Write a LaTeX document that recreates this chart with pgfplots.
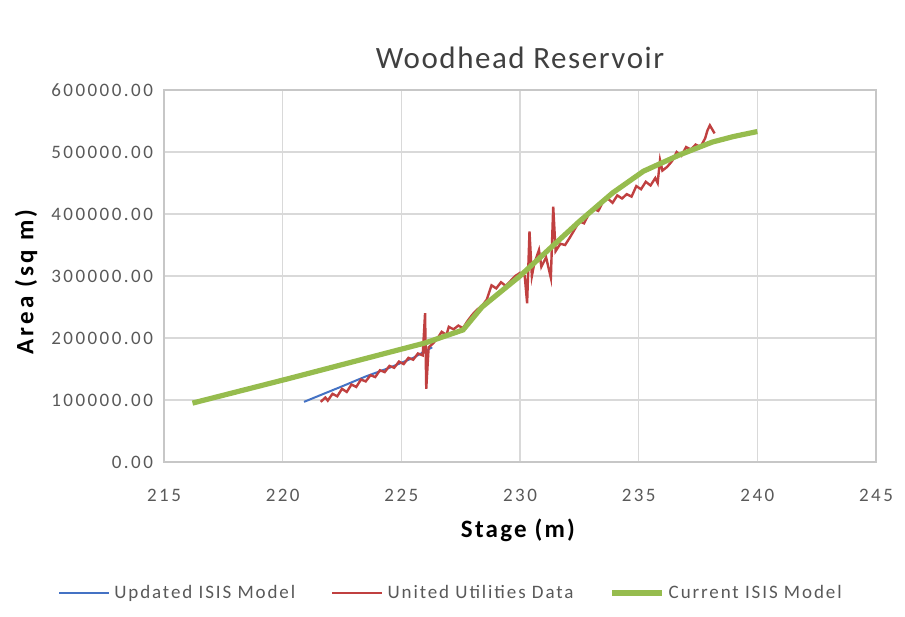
\documentclass[border=0pt]{standalone}
\usepackage{pgfplots}
\pgfplotsset{compat=1.18}
\usepackage{fontspec}
\setmainfont{Carlito}
\newfontfamily\tickfont[LetterSpace=13]{Carlito}
\newfontfamily\legfont[LetterSpace=10]{Carlito}
\newfontfamily\titlefont[LetterSpace=5]{Carlito}
\newfontfamily\xlabfont[LetterSpace=9]{Carlito}
\newfontfamily\ylabfont[LetterSpace=13]{Carlito}
\definecolor{ublue}{RGB}{68,114,196}
\definecolor{ured}{RGB}{192,64,64}
\definecolor{ugreen}{RGB}{150,188,78}
\definecolor{tickgray}{RGB}{89,89,89}
\definecolor{gridgray}{RGB}{217,217,217}
\begin{document}
\begin{tikzpicture}
\begin{axis}[
  scale only axis,
  width=356pt, height=186pt,
  xmin=215, xmax=245, ymin=0, ymax=600000,
  xtick={215,220,...,245},
  ytick={0,100000,...,600000},
  scaled ticks=false,
  grid=major,
  major grid style={gridgray, line width=0.6pt},
  axis line style={gridgray!80!gray, line width=0.6pt},
  major tick length=0pt,
  tick label style={font=\tickfont\fontsize{9.5}{11}\selectfont, text=tickgray},
  /pgf/number format/assume math mode=true,
  yticklabel style={/pgf/number format/fixed, /pgf/number format/fixed zerofill, /pgf/number format/precision=2, /pgf/number format/1000 sep={}, xshift=-2pt},
  xticklabel style={/pgf/number format/fixed, /pgf/number format/precision=0, /pgf/number format/1000 sep={}, yshift=-10pt},
  legend style={at={(0.4045,-0.352)}, anchor=center, draw=none, fill=none,
    font=\legfont\fontsize{9.5}{11}\selectfont, text=tickgray,
    /tikz/every even column/.append style={column sep=16pt}},
  legend columns=3,
  legend cell align=left,
  legend image code/.code={\draw[#1] (0pt,0pt) -- (25pt,0pt);},
]
\addplot[ublue, line width=1pt] coordinates {
(220.9,97000) (221.6,108000) (222.5,122000) (223.5,138000) (224.5,152000) (225.5,168000) (226.3,185000)
};
\addlegendentry{Updated ISIS Model}
\addplot[ured, line width=1.2pt] coordinates {
(221.6,97000) (221.8,104000) (221.9,99000) (222.1,110000) (222.3,106000) (222.5,118000)
(222.7,113000) (222.9,125000) (223.1,121000) (223.3,133000) (223.5,130000) (223.7,140000)
(223.9,137000) (224.1,148000) (224.3,145000) (224.5,155000) (224.7,152000) (224.9,162000)
(225.1,158000) (225.3,168000) (225.5,165000) (225.7,175000) (225.9,172000) (226.0,240000)
(226.05,118000) (226.15,185000) (226.3,190000) (226.5,198000) (226.7,210000) (226.9,205000)
(227.0,218000) (227.2,214000) (227.4,220000) (227.6,216000) (227.8,228000) (228.0,238000)
(228.2,246000) (228.4,252000) (228.6,262000) (228.8,285000) (229.0,280000) (229.2,290000)
(229.4,284000) (229.6,292000) (229.8,300000) (230.0,305000) (230.2,300000) (230.3,256000)
(230.4,372000) (230.5,300000) (230.6,320000) (230.8,342000) (230.9,315000) (231.1,330000)
(231.3,297000) (231.4,412000) (231.5,340000) (231.7,352000) (231.9,350000) (232.1,362000)
(232.3,375000) (232.5,388000) (232.7,385000) (232.9,400000) (233.1,408000) (233.3,405000)
(233.5,420000) (233.7,425000) (233.9,418000) (234.1,430000) (234.3,425000) (234.5,432000)
(234.7,428000) (234.9,445000) (235.1,440000) (235.3,452000) (235.5,446000) (235.7,458000)
(235.8,450000) (235.9,487000) (236.0,470000) (236.2,476000) (236.4,485000) (236.6,500000)
(236.8,494000) (237.0,508000) (237.2,504000) (237.4,512000) (237.6,508000) (237.8,522000)
(237.9,535000) (238.0,543000) (238.2,530000)
};
\addlegendentry{United Utilities Data}
\addplot[ugreen, line width=2.6pt] coordinates {
(216.2,95000) (220.3,135000) (226.0,192000) (227.6,213000) (228.4,250000) (230.0,300000)
(232.5,388000) (233.9,434000) (235.2,469000) (236.7,495000) (238.1,516000) (239.0,525000) (240.0,533000)
};
\addlegendentry{Current ISIS Model}
\end{axis}
\node[font=\titlefont\fontsize{15.5}{18}\selectfont, text=black!75] at (178pt,202pt) {Woodhead Reservoir};
\node[font=\xlabfont\bfseries\fontsize{12.5}{14}\selectfont] at (177pt,-34pt) {Stage (m)};
\node[font=\ylabfont\bfseries\fontsize{12.5}{14}\selectfont, rotate=90] at (-69pt,90pt) {Area (sq m)};
\pgfresetboundingbox
\path[use as bounding box] (-82pt,-77pt) rectangle (370.5pt,231pt);
\end{tikzpicture}
\end{document}
